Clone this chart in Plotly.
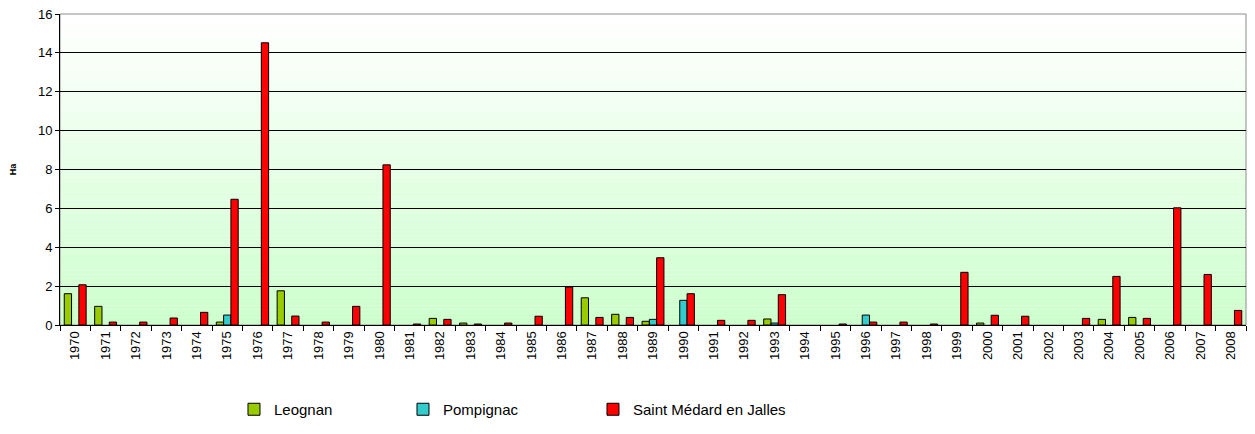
import plotly.graph_objects as go

years = [str(y) for y in range(1970, 2009)]

# Ha burned per year (None = no value)
leognan = [1.61, 0.96, None, None, None, 0.15, None, 1.76, None, None,
           None, None, 0.34, 0.10, None, None, None, 1.40, 0.55, 0.19,
           None, None, None, 0.31, None, None, None, None, None, None,
           0.10, None, None, None, 0.29, 0.39, None, None, None]
pompignac = [None, None, None, None, None, 0.51, None, None, None, None,
             None, None, None, None, None, None, None, None, None, 0.29,
             1.27, None, None, 0.10, None, None, 0.51, None, None, None,
             None, None, None, None, None, None, None, None, None]
saint_medard = [2.07, 0.15, 0.15, 0.36, 0.65, 6.47, 14.52, 0.46, 0.15, 0.96,
                8.24, 0.05, 0.29, 0.05, 0.10, 0.45, 1.95, 0.39, 0.39, 3.46,
                1.61, 0.24, 0.24, 1.56, None, 0.05, 0.15, 0.15, 0.05, 2.71,
                0.50, 0.45, None, 0.34, 2.50, 0.34, 6.03, 2.60, 0.75]

series = [
    ("Leognan", leognan, "#99CC00", "legend", 0.1467),
    ("Pompignac", pompignac, "#33CCCC", "legend2", 0.2892),
    ("Saint Médard en Jalles", saint_medard, "#FF0000", "legend3", 0.4494),
]

fig = go.Figure()
legends = {}
for name, vals, color, leg, lx in series:
    fig.add_trace(go.Bar(
        x=years, y=vals, name=name, legend=leg,
        marker=dict(color=color, line=dict(color="#000000", width=1)),
    ))
    legends[leg] = dict(
        orientation="h", x=lx, xanchor="left", y=-0.269, yanchor="middle",
        font=dict(size=15), bgcolor="rgba(0,0,0,0)",
    )

# vertical white -> light green gradient behind the plot
n = 80
shapes = []
for i in range(n):
    t = i / (n - 1)
    r = int(round(0xCC + (0xFF - 0xCC) * t))
    shapes.append(dict(
        type="rect", xref="paper", yref="paper", layer="below",
        x0=0, x1=1, y0=i / n, y1=(i + 1) / n,
        fillcolor=f"rgb({r},255,{r})", line=dict(width=0),
    ))
shapes.append(dict(
    type="rect", xref="paper", yref="paper", layer="below",
    x0=0, x1=1, y0=0, y1=1, line=dict(color="#8C8C8C", width=1),
))

# page body has an 8px margin, so the figure is sized to fit inside it
fig.update_layout(
    width=1239, height=418,
    paper_bgcolor="white", plot_bgcolor="white",
    font=dict(family="Liberation Sans, Arial, sans-serif", color="black"),
    margin=dict(l=52, r=1, t=6, b=100),
    barmode="group", bargap=0.28, bargroupgap=0,
    shapes=shapes,
    showlegend=True,
    **legends,
    xaxis=dict(
        type="category", tickangle=-90, tickfont=dict(size=13),
        ticks="outside", tickson="boundaries", ticklen=5, tickcolor="black",
        showline=True, linecolor="black", showgrid=False, automargin=False,
    ),
    yaxis=dict(
        range=[0, 16.001], dtick=2, tickfont=dict(size=13),
        ticks="outside", ticklen=4, tickcolor="black",
        showline=True, linecolor="black", automargin=False,
        ticklabeloverflow="allow",
        gridcolor="#000000", gridwidth=1, zeroline=False,
        title=dict(text="<b>Ha</b>", font=dict(size=9), standoff=24),
    ),
)

fig.write_html("out.html")
